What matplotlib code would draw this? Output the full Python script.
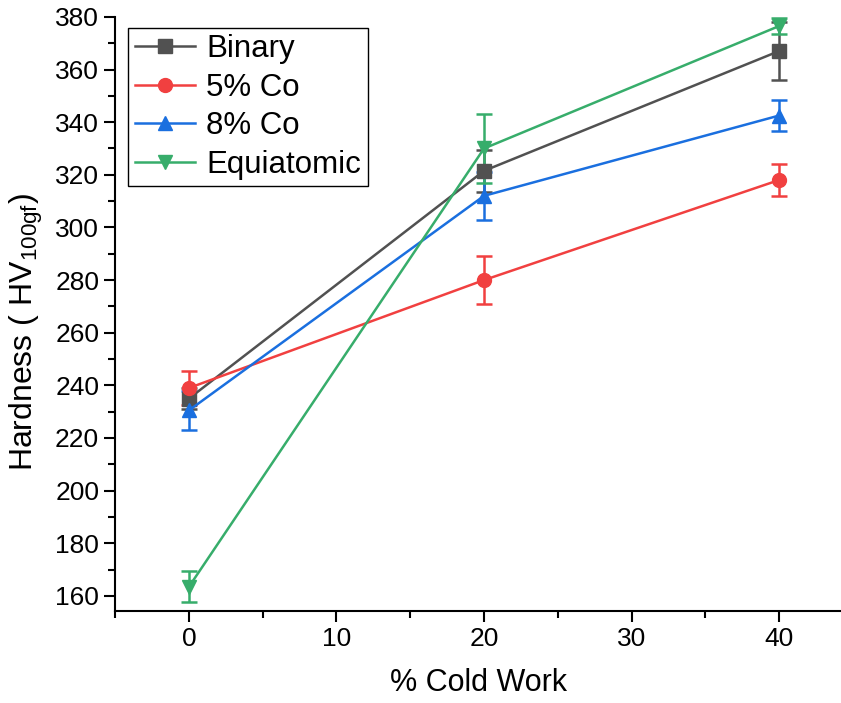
import numpy as np
import matplotlib.pyplot as plt
from matplotlib.ticker import MultipleLocator
from matplotlib.lines import Line2D

plt.rcParams['font.family'] = ['Liberation Sans', 'DejaVu Sans']
plt.rcParams['mathtext.fontset'] = 'custom'
plt.rcParams['mathtext.rm'] = 'Liberation Sans'
plt.rcParams['mathtext.it'] = 'Liberation Sans'

cold_work = [0, 20, 40]

binary = [235, 321.5, 367]
binary_err = [4, 8, 11]
co5 = [239, 280, 318]
co5_err = [6.5, 9, 6]
co8 = [230.5, 312, 342.5]
co8_err = [7.5, 9, 6]
equi = [163.5, 330, 376.5]
equi_err = [6, 13, 3]

series = [
    ('Binary', binary, binary_err, '#515151', 's'),
    ('5% Co', co5, co5_err, '#F14040', 'o'),
    ('8% Co', co8, co8_err, '#1A6FDF', '^'),
    ('Equiatomic', equi, equi_err, '#37AD6B', 'v'),
]

fig = plt.figure(figsize=(8.41, 7.03), dpi=100)
ax = fig.add_axes([0.137, 0.131, 0.863, 0.845])

handles = []
for name, y, err, col, mk in series:
    ax.errorbar(cold_work, y, yerr=err, color=col, marker=mk, markersize=10,
                linewidth=1.8, elinewidth=1.8, capsize=6, capthick=1.8)
    handles.append(Line2D([], [], color=col, marker=mk, markersize=10,
                          linewidth=1.8, label=name))

ax.set_xlim(-5, 44.2)
ax.set_ylim(154.3, 380)
ax.xaxis.set_major_locator(MultipleLocator(10))
ax.xaxis.set_minor_locator(MultipleLocator(5))
ax.yaxis.set_major_locator(MultipleLocator(20))
ax.yaxis.set_minor_locator(MultipleLocator(10))

for s in ['top', 'right']:
    ax.spines[s].set_visible(False)
for s in ['left', 'bottom']:
    ax.spines[s].set_linewidth(1.5)

ax.tick_params(which='major', direction='out', length=8, width=1.5, labelsize=19)
ax.tick_params(which='minor', direction='out', length=5, width=1.5)

ax.set_xlabel('% Cold Work', fontsize=22, labelpad=12)
ax.set_ylabel('Hardness ( HV$_{100gf}$)', fontsize=23)
ax.yaxis.set_label_coords(-0.097, 0.47)

leg = ax.legend(handles=handles, loc='upper left', bbox_to_anchor=(0.018, 0.982),
                fontsize=22.5, frameon=True, fancybox=False, edgecolor='black',
                framealpha=1, handlelength=1.95, handletextpad=0.35,
                labelspacing=0.28, borderpad=0.2, borderaxespad=0)
leg.get_frame().set_linewidth(1.0)

fig.savefig('out.png', dpi=100)
